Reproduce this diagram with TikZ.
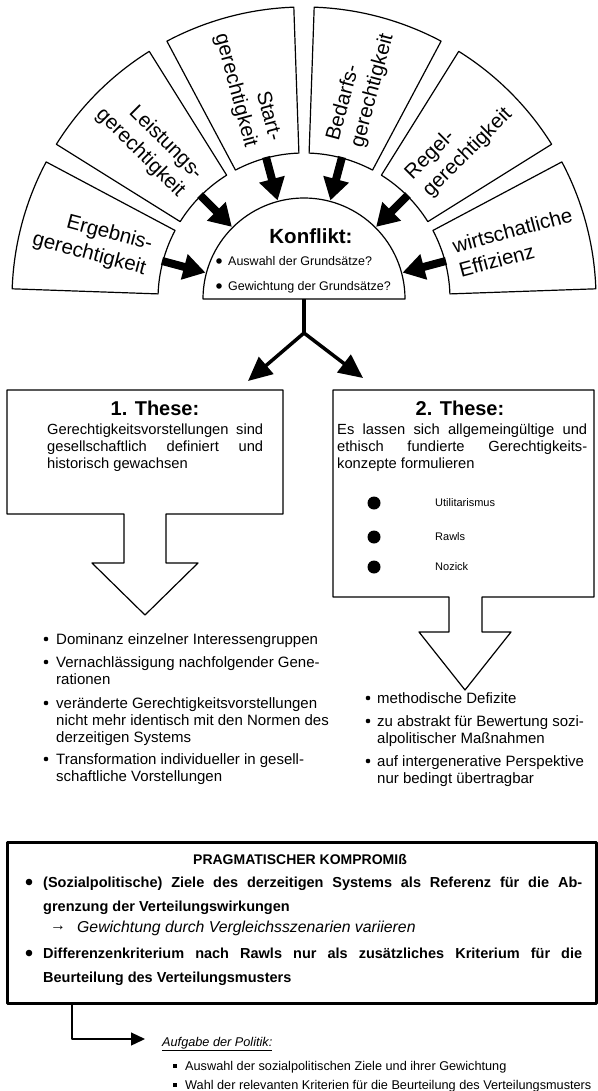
\documentclass[tikz,border=0pt]{standalone}
\usepackage{fontspec}
\setmainfont{Liberation Sans}
\usetikzlibrary{arrows.meta}

\newcommand{\fsz}[2]{\fontsize{#1}{#2}\selectfont}

\begin{document}
\begin{tikzpicture}[x=1pt,y=1pt,line join=round,
  sector/.style={draw,line width=1.2pt},
  sectorlabel/.style={inner sep=0pt,font=\fsz{20.5}{25}},
  sectorarrow/.style={line width=8pt,-{Triangle[length=22pt,width=25pt]}},
  splitarrow/.style={line width=3.5pt,-{Triangle[length=24pt,width=22pt]}},
  thesebox/.style={draw,line width=1.2pt},
  thesetitle/.style={inner sep=0pt,font=\bfseries\fsz{20}{24}},
  thesetext/.style={anchor=north west,inner sep=0pt,align=justify,font=\fsz{14.7}{17}},
  bullettext/.style={anchor=north west,inner sep=0pt,align=left,font=\fsz{15}{17}},
  boldpara/.style={anchor=north west,inner sep=0pt,text width=539pt,align=justify,font=\bfseries\fsz{14.5}{24}},
  smalltext/.style={anchor=base west,inner sep=0pt,font=\fsz{12.7}{15}}]
  \fill[white] (0,0) rectangle (597,-1091);
  \useasboundingbox (0,0) rectangle (597,-1091);
  \coordinate (C) at (304,-299);

  % Grundsaetze rund um den Konflikt
  \foreach \a/\txt/\al in {165/{Ergebnis-\\gerechtigkeit}/right,
      135/{Leistungs-\\gerechtigkeit}/right,
      105/{Start-\\gerechtigkeit}/right,
      75/{Bedarfs-\\gerechtigkeit}/left,
      45/{Regel-\\gerechtigkeit}/left,
      15/{wirtschatliche\\Effizienz}/left}{
    \pgfmathsetmacro\rot{\a>90 ? \a-180 : \a}
    \draw[sector] ([shift={({\a-13}:146)}]C) arc[start angle={\a-13},end angle={\a+13},radius=146]
      -- ([shift={({\a+13}:292)}]C) arc[start angle={\a+13},end angle={\a-13},radius=292] -- cycle;
    \node[sectorlabel,rotate=\rot,align=\al] (lab\a) at ([shift={(\a:219)}]C) {\txt};
    \coordinate (from\a) at ([shift={(\a:147)}]C);
    \coordinate (to\a) at ([shift={(\a:102)}]C);
    \draw[sectorarrow] (from\a) -- (to\a);
  }

  % Konflikt
  \draw[sector] ([shift={(180:101)}]C) arc[start angle=180,end angle=0,radius=101] -- cycle;
  \node[inner sep=0pt,font=\bfseries\fsz{20.5}{24}] (konflikt) at (311,-236) {Konflikt:};
  \fill (219,-261) circle (2.8);
  \fill (219,-286) circle (2.8);
  \node[smalltext,font=\fsz{12.5}{15}] (frage1) at (228,-265.5) {Auswahl der Grundsätze?};
  \node[smalltext,font=\fsz{12.5}{15}] (frage2) at (228,-290.5) {Gewichtung der Grundsätze?};

  % Verzweigung
  \coordinate (split) at (304,-333);
  \coordinate (tipL) at (248,-381);
  \coordinate (tipR) at (363,-378);
  \draw[line width=3.5pt] (C) -- (split);
  \draw[splitarrow] (split) -- (tipL);
  \draw[splitarrow] (split) -- (tipR);

  % 1. These
  \draw[thesebox] (7,-390) -- (283,-390) -- (283,-514) -- (166,-514) -- (166,-563) -- (198,-563)
    -- (145,-615) -- (92,-563) -- (124,-563) -- (124,-514) -- (7,-514) -- cycle;
  \node[thesetitle] (these1) at (155,-408) {1. These:};
  \node[thesetext,text width=216pt] (text1) at (47,-423.5)
    {Gerechtigkeitsvorstellungen sind\linebreak gesellschaftlich definiert und\linebreak historisch gewachsen};

  % 2. These
  \draw[thesebox] (333,-390) -- (594,-390) -- (594,-597) -- (482,-597) -- (482,-632) -- (511,-632)
    -- (465,-690) -- (419,-632) -- (449,-632) -- (449,-597) -- (333,-597) -- cycle;
  \node[thesetitle] (these2) at (460,-408) {2. These:};
  \node[thesetext,text width=250pt] (text2) at (337,-423.5)
    {Es lassen sich allgemeingültige und\linebreak ethisch fundierte Gerechtigkeits-\linebreak konzepte formulieren};
  \foreach \y/\name in {503/Utilitarismus,537/Rawls,567/Nozick}{
    \fill (374,-\y) circle (6.5);
    \node[anchor=west,inner sep=0pt,font=\fsz{11}{13}] (\name) at (435,-\y) {\name};
  }

  % Kritik links
  \foreach \y in {639,662,703,759} \fill (46,-\y) circle (2.3);
  \node[bullettext] (kritik1) at (56,-633.3) {Dominanz einzelner Interessengruppen};
  \node[bullettext] (kritik2) at (56,-656.3) {Vernachlässigung nachfolgender Gene-\\rationen};
  \node[bullettext] (kritik3) at (56,-697.3) {veränderte Gerechtigkeitsvorstellungen\\nicht mehr identisch mit den Normen des\\derzeitigen Systems};
  \node[bullettext] (kritik4) at (56,-753.3) {Transformation individueller in gesell-\\schaftliche Vorstellungen};

  % Kritik rechts
  \foreach \y in {698,721,761} \fill (368,-\y) circle (2.3);
  \node[bullettext] (defizit1) at (377,-692.3) {methodische Defizite};
  \node[bullettext] (defizit2) at (377,-715.3) {zu abstrakt für Bewertung sozi-\\alpolitischer Maßnahmen};
  \node[bullettext] (defizit3) at (377,-755.3) {auf intergenerative Perspektive\\nur bedingt übertragbar};

  % Kompromiss
  \node[draw,line width=3pt,minimum width=589pt,minimum height=161pt,anchor=north west,inner sep=0pt] (kompromiss) at (6,-841) {};
  \node[inner sep=0pt,font=\bfseries\fsz{14}{16}] (titel) at (300,-859) {PRAGMATISCHER KOMPROMIß};
  \fill (29,-882) circle (3.3);
  \fill (29,-953) circle (3.3);
  \node[boldpara] (ziele) at (43,-876.5)
    {(Sozialpolitische) Ziele des derzeitigen Systems als Referenz für die Ab-\linebreak grenzung der Verteilungswirkungen};
  \node[anchor=west,inner sep=0pt,font=\itshape\fsz{15.8}{18}] (pfeil) at (50,-928) {→};
  \node[anchor=west,inner sep=0pt,font=\itshape\fsz{15.8}{18}] (gewichtung) at (77,-928) {Gewichtung durch Vergleichsszenarien variieren};
  \node[boldpara] (differenz) at (43,-947.5)
    {Differenzenkriterium nach Rawls nur als zusätzliches Kriterium für die\linebreak Beurteilung des Verteilungsmusters};

  % Aufgabe der Politik
  \coordinate (abzweig) at ([xshift=66pt]kompromiss.south west);
  \coordinate (ziel) at (145,-1039);
  \draw[line width=1.3pt,-{Triangle[length=14pt,width=13pt]}] (abzweig) |- (ziel);
  \node[smalltext,font=\itshape\fsz{12.7}{15}] (aufgabe) at (162,-1046.5) {\underline{Aufgabe der Politik:}};
  \fill (173.3,-1067.7) rectangle ++(3.4,3.4);
  \fill (173.3,-1086.7) rectangle ++(3.4,3.4);
  \node[smalltext] (aufgabe1) at (185,-1070.6) {Auswahl der sozialpolitischen Ziele und ihrer Gewichtung};
  \node[smalltext] (aufgabe2) at (185,-1089.6) {Wahl der relevanten Kriterien für die Beurteilung des Verteilungsmusters};
\end{tikzpicture}
\end{document}
